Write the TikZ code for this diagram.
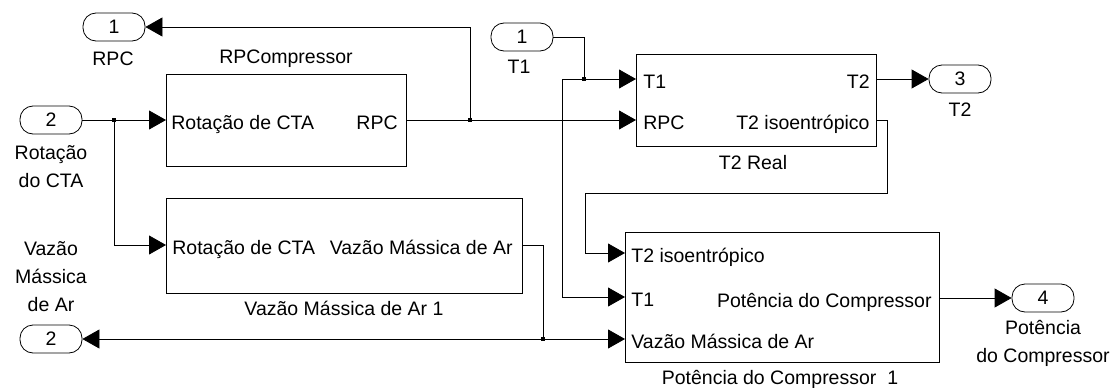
\documentclass[tikz,border=0pt]{standalone}
\usepackage{fontspec}
\setmainfont{Liberation Sans}
\usetikzlibrary{arrows.meta}
\tikzstyle{bloco} = [draw=black, line width=0.8pt, inner sep=0pt]
\tikzstyle{porta} = [draw=black, line width=0.8pt, rounded corners=13pt, minimum width=62pt, minimum height=28pt, inner sep=0pt]
\tikzstyle{sinal} = [-{Triangle[length=17pt,width=19pt]}]
\tikzstyle{pino} = [inner sep=0pt, text height=14pt, text depth=0pt]
\tikzstyle{rotulo} = [align=center, inner sep=0pt, anchor=base]
\newcommand{\juncao}[2]{\node [fill=black, minimum size=4pt, inner sep=0pt] (#1) at #2 {};}

\begin{document}
\begin{tikzpicture}[x=1pt, y=-1pt, line width=0.8pt, font=\fontsize{19.5}{28}\selectfont]%
			\useasboundingbox (0,0) rectangle (1117,388);%
			% blocos
			\node [bloco, minimum width=240pt, minimum height=92pt] (rpcomp) at (286,120) {};%
			\node [bloco, minimum width=240pt, minimum height=92pt] (t2real) at (756,100) {};%
			\node [bloco, minimum width=356pt, minimum height=95pt] (vazao) at (344,245.5) {};%
			\node [bloco, minimum width=314pt, minimum height=130pt] (potencia) at (782,297) {};%
			\node [pino] (rpcompNome) at (286,56) {RPCompressor};%
			\node [pino] (t2realNome) at (753,162) {T2 Real};%
			\node [pino] (vazaoNome) at (344,308) {Vazão Mássica de Ar 1};%
			\node [pino] (potenciaNome) at (780,377) {Potência do Compressor~~1};%
			% entradas e saidas dos blocos
			\node [pino, anchor=west] (rpcompE1) at (171,122) {Rotação de CTA};%
			\node [pino, anchor=east] (rpcompS1) at (398,122) {RPC};%
			\node [pino, anchor=west] (t2realE1) at (643,81) {T1};%
			\node [pino, anchor=west] (t2realE2) at (643,122) {RPC};%
			\node [pino, anchor=east] (t2realS1) at (870,81) {T2};%
			\node [pino, anchor=east] (t2realS2) at (870,122) {T2 isoentrópico};%
			\node [pino, anchor=west] (vazaoE1) at (172,247) {Rotação de CTA};%
			\node [pino, anchor=east] (vazaoS1) at (513,247) {Vazão Mássica de Ar};%
			\node [pino, anchor=west] (potenciaE1) at (631,255) {T2 isoentrópico};%
			\node [pino, anchor=west] (potenciaE2) at (631,299) {T1};%
			\node [pino, anchor=west] (potenciaE3) at (631,341) {Vazão Mássica de Ar};%
			\node [pino, anchor=east] (potenciaS1) at (932,300) {Potência do Compressor};%
			\coordinate (rpcIn) at (166,120);%
			\coordinate (rpcOut) at (406,120);%
			\coordinate (t2In1) at (636,79);%
			\coordinate (t2In2) at (636,120);%
			\coordinate (t2Out1) at (876,79);%
			\coordinate (t2Out2) at (876,120);%
			\coordinate (vazIn) at (166,245);%
			\coordinate (vazOut) at (522,245);%
			\coordinate (potIn1) at (625,253);%
			\coordinate (potIn2) at (625,297);%
			\coordinate (potIn3) at (625,339);%
			\coordinate (potOut) at (939,298);%
			% portas
			\node [porta] (outRPC) at (114,27) {1};%
			\node [porta] (inRot) at (51,120) {2};%
			\node [porta] (inT1) at (522,37) {1};%
			\node [porta] (outT2) at (960,79) {3};%
			\node [porta] (outPot) at (1043,298) {4};%
			\node [porta] (outVaz) at (51,339) {2};%
			\node [pino] (outRPCNome) at (113,58) {RPC};%
			\node [pino] (inT1Nome) at (519,66) {T1};%
			\node [pino] (outT2Nome) at (960,109) {T2};%
			\node [rotulo] (inRotNome) at (51,187) {Rotação\\do CTA};%
			\node [rotulo] (outVazNome) at (51,311) {Vazão\\Mássica\\de Ar};%
			\node [rotulo] (outPotNome) at (1043,362) {Potência\\do Compressor};%
			% fios
			\juncao{jRot}{(114,120)}%
			\juncao{jRPC}{(470,120)}%
			\juncao{jT1}{(584,79)}%
			\juncao{jVaz}{(543,339)}%
			\coordinate (cT1) at (562,79);%
			\coordinate (cIsoA) at (887,193);%
			\coordinate (cIsoB) at (585,193);%
			\draw (inRot.east) -- (jRot);%
			\draw [sinal] (jRot) -- (rpcIn);%
			\draw [sinal] (jRot) |- (vazIn);%
			\draw (rpcOut) -- (jRPC);%
			\draw [sinal] (jRPC) -- (t2In2);%
			\draw [sinal] (jRPC) |- (outRPC.east);%
			\draw (inT1.east) -| (jT1);%
			\draw [sinal] (jT1) -- (t2In1);%
			\draw [sinal] (jT1) -- (cT1) |- (potIn2);%
			\draw [sinal] (t2Out1) -- (outT2.west);%
			\draw [sinal] (t2Out2) -| (cIsoA) -- (cIsoB) |- (potIn1);%
			\draw (vazOut) -| (jVaz);%
			\draw [sinal] (jVaz) -- (potIn3);%
			\draw [sinal] (jVaz) -- (outVaz.east);%
			\draw [sinal] (potOut) -- (outPot.west);%
		\end{tikzpicture}
\end{document}
